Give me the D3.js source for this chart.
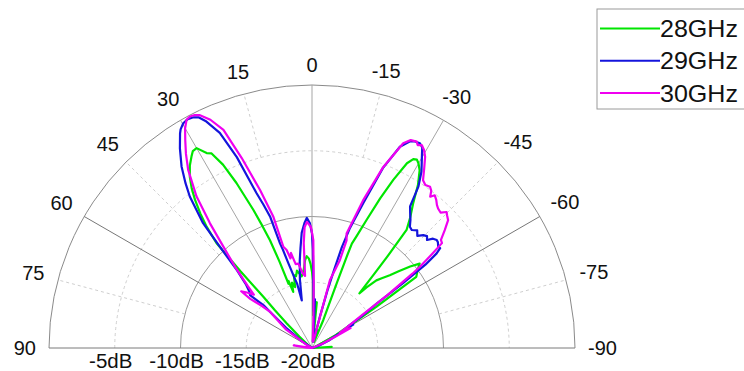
<!DOCTYPE html>
<html><head><meta charset="utf-8">
<script src="https://cdn.jsdelivr.net/npm/d3@7"></script>
<style>
body{margin:0;background:#fff;}
svg{display:block;}
text{font-family:"Liberation Sans",Arial,sans-serif;fill:#111;}
</style>
</head><body>
<svg id="chart" width="744" height="371"></svg>
<script>
// ---------------- data ----------------
const seriesNames = ["28GHz", "29GHz", "30GHz"];
const angleTicks = [90, 75, 60, 45, 30, 15, 0, -15, -30, -45, -60, -75, -90];
const angleTickLabels = ["90", "75", "60", "45", "30", "15", "0", "-15", "-30", "-45", "-60", "-75", "-90"];
const radialTicks = [-5, -10, -15, -20];
const radialTickLabels = ["-5dB", "-10dB", "-15dB", "-20dB"];

// [angle (deg), gain (dB)]
const pattern28 = [
[-90,-20],[-87,-18.5],[-85,-20],[-75,-20],[-68,-19.6],[-62,-18],[-60,-17.3],[-57.4,-14.2],[-55.7,-10.4],[-53.5,-10],[-51.9,-9.6],[-50.3,-10.3],[-48.5,-11.2],[-46.9,-11.9],[-45,-12.5],[-43.6,-12.9],[-42,-13.8],[-40.9,-14.5],[-40,-12.5],[-39.5,-11],[-38.7,-8.5],[-37,-7.6],[-35,-6.6],[-33,-5.2],[-31.2,-4.2],[-30,-3.8],[-29.1,-3.6],[-28.2,-3.7],[-27.2,-4.2],[-25.8,-5.8],[-24.5,-7.5],[-23.1,-9.4],[-21.8,-10.8],[-20.9,-11.5],[-20.8,-12.6],[-20.9,-14.7],[-22,-17.7],[-19,-19.5],[-16,-18.8],[-14,-18.5],[-12,-19.3],[-9,-19.5],[-6,-16.5],[-4.5,-17.5],[-3,-17],[-2,-17.5],[-1.1,-15],[0,-14.2],[1,-13.6],[2,-13.2],[3.3,-13],[4.5,-13.3],[6,-14],[8.2,-14.5],[10,-14.2],[11,-14],[12.5,-14.4],[14,-14.3],[15.5,-15.2],[17,-14.8],[18.5,-15.5],[19.3,-14.6],[20.1,-14.8],[20.6,-13],[21.3,-11.2],[22.1,-10],[23,-8.6],[24.6,-6.2],[25.9,-4.5],[27.3,-3.35],[28.4,-3.15],[30,-2.45],[31.2,-2.5],[32.2,-2.8],[33.8,-3.3],[35.5,-4],[37,-4.8],[38.3,-5.65],[39.7,-6.7],[41,-7.8],[42.3,-9.2],[43,-12],[43.5,-14.6],[44.5,-16],[45.7,-17.3],[48,-18.7],[52,-19.6],[60,-20],[90,-20]
];
const pattern29 = [
[-90,-20],[-80,-20],[-72,-19.5],[-66,-18.6],[-62,-17.6],[-60.5,-16.4],[-59,-16.8],[-57.5,-15.6],[-55.5,-14],[-54.5,-11.5],[-53.7,-9.3],[-52.8,-8.1],[-52.1,-7.65],[-51.3,-7.7],[-50,-7.5],[-49.1,-7.45],[-47.9,-7.6],[-46.8,-8.0],[-45.8,-7.8],[-44.6,-7.95],[-43.2,-8.3],[-41.8,-8.0],[-40.2,-8.25],[-38.9,-8.15],[-37.5,-7.7],[-36,-7.3],[-34.7,-6.9],[-33.4,-5.3],[-31.8,-4.2],[-30.3,-3.45],[-28.8,-2.6],[-27.8,-2.4],[-26.5,-2.45],[-25.4,-2.6],[-23.6,-3.3],[-21.5,-5.3],[-19.5,-8.3],[-17.5,-10.5],[-16.5,-12],[-15.8,-13.8],[-15,-15.5],[-14.2,-17.5],[-12,-19.4],[-8,-19.5],[-5,-18.5],[-3.5,-16.3],[-2.5,-17.2],[-1.5,-15.8],[-1.1,-14.8],[-0.5,-12.5],[0,-11.3],[1,-10.5],[2.3,-10.1],[3.5,-10.5],[5.1,-11.2],[6.5,-12.3],[8,-13.3],[10,-14.7],[12.1,-16.3],[13,-15],[14,-14.5],[15.6,-13.3],[16.5,-12.2],[17,-11.7],[17.7,-9.5],[18.7,-8.5],[19.7,-7.5],[21.5,-4.4],[23.2,-2.2],[25,-1.0],[26.2,-0.45],[27.2,-0.27],[28.5,-0.2],[29.8,-0.3],[31,-0.6],[31.6,-0.85],[33.5,-1.8],[35.7,-3.0],[37.5,-4.2],[38.9,-5.2],[41.1,-7.4],[42.2,-9.4],[44,-11.8],[46,-13],[48,-13.6],[49.5,-13.8],[48.6,-15.1],[49.2,-15.8],[52,-17.5],[56,-19],[60,-20],[90,-20]
];
const pattern30 = [
[-90,-20],[-75,-20],[-68,-19.2],[-64,-18],[-62.6,-16.7],[-61.5,-17.6],[-59,-16.8],[-56.9,-15.6],[-55,-13],[-53.5,-10.5],[-53,-9.7],[-52,-8.5],[-51.1,-7.3],[-50,-7.2],[-48.4,-6.5],[-46.8,-5.8],[-45.5,-5.6],[-44.7,-5.45],[-43.5,-5.8],[-42.1,-5.7],[-41.1,-5.55],[-40,-5.3],[-38.8,-5.1],[-38,-5.4],[-37.2,-5.0],[-36.2,-4.8],[-34.8,-4.9],[-33.5,-4.7],[-32,-3.9],[-30.6,-3.1],[-29.5,-2.7],[-28.4,-2.45],[-27.5,-2.6],[-26.9,-2.4],[-25.4,-2.5],[-24,-2.95],[-21.5,-5.2],[-19.1,-8.1],[-16.8,-10.9],[-17.8,-11.4],[-17.6,-13],[-14.8,-14.65],[-14.3,-17.6],[-12,-19.5],[-6,-19.5],[-3,-18],[-1.5,-15],[-0.7,-11.8],[0.5,-10.8],[2.3,-10.4],[3.5,-10.8],[4.5,-12],[5.5,-14.5],[7,-14.3],[9.2,-13.5],[11,-13.5],[12.5,-12.6],[13.5,-13],[14.5,-12.3],[15.8,-12],[16.4,-9.6],[18.2,-7.35],[20.3,-4.6],[22.1,-2.1],[24,-1.0],[25.7,-0.35],[26.7,-0.17],[27.8,-0.1],[28.8,-0.2],[30,-0.7],[31.4,-1.5],[33,-2.4],[34.8,-3.5],[37.3,-5.5],[39.3,-7.75],[41.2,-9.8],[43.5,-11.5],[46,-13.2],[47.5,-14],[49.5,-13.5],[51.3,-13.1],[51.5,-14],[50,-15],[49.2,-15.8],[54.6,-17.6],[60,-19.5],[72,-20],[82,-18.6],[86,-19.6],[90,-20]
];
const seriesData = [pattern28, pattern29, pattern30];
const seriesColors = ["#00e600", "#1414dc", "#f000f0"];

// ---------------- layout ----------------
const cx = 312, cy = 348, R = 263;
const svg = d3.select("#chart");
const rScale = d3.scaleLinear().domain([-20, 0]).range([0, R]).clamp(true);
const aScale = d3.scaleLinear().domain([-90, 90]).range([Math.PI / 2, -Math.PI / 2]);
const g = svg.append("g").attr("transform", `translate(${cx},${cy})`);
const pt = (theta, rr) => { const a = aScale(theta); return [rr * Math.sin(a), -rr * Math.cos(a)]; };

// rings
const ringLevels = [-15, -10, -5, 0];
ringLevels.forEach(v => {
  const rr = rScale(v);
  const solid = (v === -10 || v === 0);
  g.append("path")
    .attr("d", `M${-rr},0 A${rr},${rr} 0 0 1 ${rr},0`)
    .attr("fill", "none")
    .attr("stroke", solid ? (v === 0 ? "#8a8a8a" : "#999") : "#cfcfcf")
    .attr("stroke-width", 1)
    .attr("stroke-dasharray", solid ? null : "3,3");
});

// spokes
angleTicks.filter(t => Math.abs(t) < 90).forEach(t => {
  const major = t % 30 === 0;
  const inner = major ? 0 : rScale(Math.abs(t) === 15 ? -5 : -10);
  const p0 = pt(t, inner), p1 = pt(t, R);
  g.append("line")
    .attr("x1", p0[0]).attr("y1", p0[1]).attr("x2", p1[0]).attr("y2", p1[1])
    .attr("stroke", major ? (Math.abs(t) === 60 ? "#777" : "#a5a5a5") : "#cfcfcf")
    .attr("stroke-width", 1)
    .attr("stroke-dasharray", major ? null : "3,3");
});
// baseline (±90)
{
  const p0 = pt(90, R), p1 = pt(-90, R);
  g.append("line").attr("x1", p0[0]).attr("y1", p0[1]).attr("x2", p1[0]).attr("y2", p1[1])
    .attr("stroke", "#7a7a7a").attr("stroke-width", 1);
}

// curves
const radial = d3.lineRadial()
  .angle(d => aScale(d[0]))
  .radius(d => rScale(d[1]))
  .curve(d3.curveLinear);
seriesData.forEach((data, i) => {
  g.append("path")
    .attr("d", radial(data))
    .attr("fill", "none")
    .attr("stroke", seriesColors[i])
    .attr("stroke-width", 2.2)
    .attr("stroke-linejoin", "round");
});

// angle labels
angleTicks.forEach((t, i) => {
  const txt = g.append("text")
    .attr("font-size", 20)
    .attr("text-anchor", "middle")
    .attr("dominant-baseline", "central")
    .text(angleTickLabels[i]);
  const hw = txt.node().getComputedTextLength() / 2, hh = 7;
  const a = aScale(t);
  const rr = R + 13 + Math.abs(Math.sin(a)) * hw + Math.abs(Math.cos(a)) * hh;
  const p = pt(t, rr);
  txt.attr("x", p[0]).attr("y", p[1]);
});

// radial labels
radialTicks.forEach((v, i) => {
  g.append("text")
    .attr("x", -rScale(v) - 4)
    .attr("y", 20)
    .attr("font-size", 20.5)
    .attr("text-anchor", "middle")
    .text(radialTickLabels[i]);
});

// legend
const leg = svg.append("g").attr("transform", "translate(597,9)");
leg.append("rect").attr("x", 0).attr("y", 0).attr("width", 170).attr("height", 100)
  .attr("fill", "#fff").attr("stroke", "#9a9a9a").attr("stroke-width", 1);
seriesNames.forEach((name, i) => {
  const y = 19.5 + i * 32.3;
  leg.append("line").attr("x1", 3).attr("x2", 63).attr("y1", y).attr("y2", y)
    .attr("stroke", seriesColors[i]).attr("stroke-width", 2);
  leg.append("text").attr("x", 63).attr("y", y + 8.5).attr("font-size", 24)
    .attr("textLength", 78).attr("lengthAdjust", "spacingAndGlyphs").text(name);
});
</script>
</body></html>
